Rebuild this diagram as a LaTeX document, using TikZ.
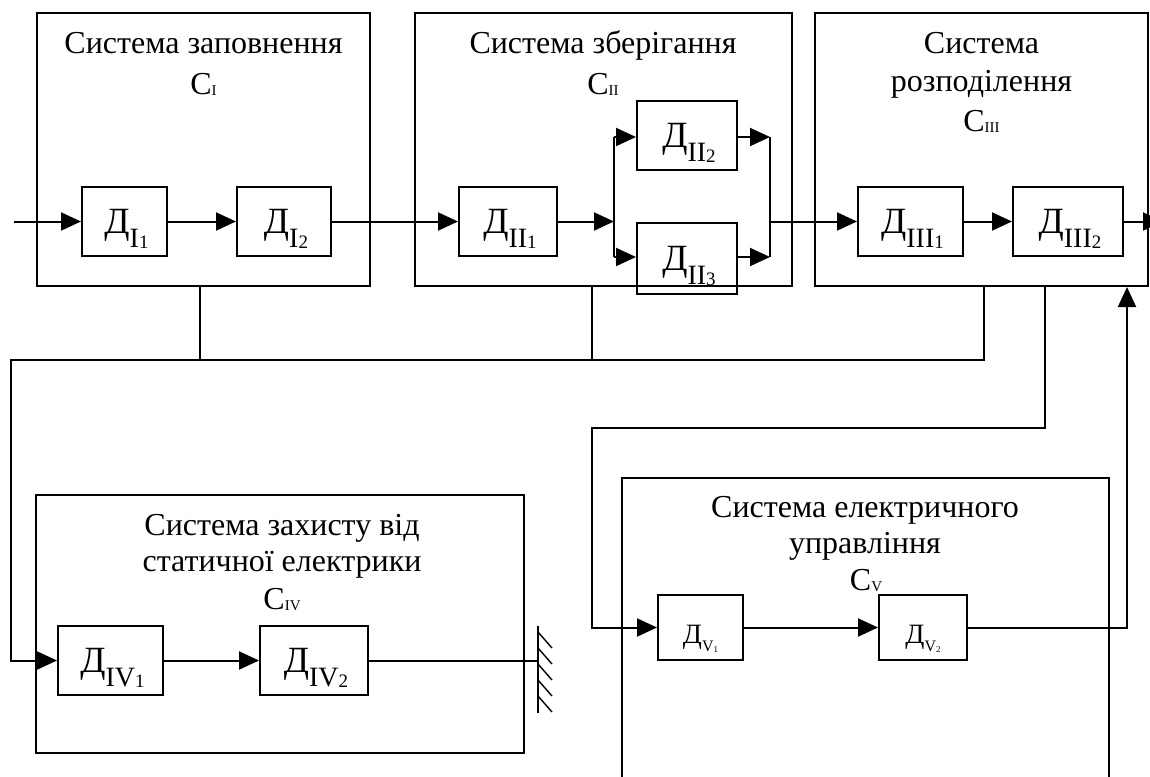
\documentclass[tikz,border=0pt]{standalone}
\usepackage{fontspec}
\setmainfont{Liberation Serif}
\usetikzlibrary{arrows.meta,calc}
\newcommand{\csub}[1]{\raisebox{-1.5pt}{\fontsize{15}{15}\selectfont #1}}
\newcommand{\dlab}[2]{\fontsize{37}{37}\selectfont Д\raisebox{-14pt}{\fontsize{28}{28}\selectfont #1\raisebox{-1pt}{\fontsize{19}{19}\selectfont #2}}}
\newcommand{\dlabs}[2]{\fontsize{28}{28}\selectfont Д\raisebox{-8pt}{\fontsize{16}{16}\selectfont #1\raisebox{-1pt}{\fontsize{9}{9}\selectfont #2}}}
\tikzset{
  ln/.style={line width=2pt},
  arr/.style={line width=2pt, -{Triangle[length=20pt,width=18pt]}},
  sysbox/.style={draw, line width=2pt, inner sep=0pt},
  dbox/.style={draw, line width=2pt, inner sep=0pt},
  ttl/.style={anchor=base, inner sep=0pt, font=\fontsize{32}{38}\selectfont},
  dl/.style={anchor=base, inner sep=0pt},
}
\begin{document}
\begin{tikzpicture}[x=1pt,y=-1pt]
\useasboundingbox (0,0) rectangle (1150,776);
% system boxes
\node[sysbox, minimum width=333, minimum height=273] (s1) at (203.5,149.5) {};
\node[sysbox, minimum width=377, minimum height=273] (s2) at (603.5,149.5) {};
\node[sysbox, minimum width=333, minimum height=273] (s3) at (981.5,149.5) {};
\node[sysbox, minimum width=488, minimum height=258] (s4) at (280,624) {};
\node[sysbox, minimum width=487, minimum height=340] (s5) at (865.5,648) {};
% titles
\node[ttl] (t1a) at (203.5,53) {Система заповнення};
\node[ttl] (t1b) at (203.5,94) {С\csub{I}};
\node[ttl] (t2a) at (603,53) {Система зберігання};
\node[ttl] (t2b) at (603,94) {С\csub{II}};
\node[ttl] (t3a) at (981.5,53) {Система};
\node[ttl] (t3b) at (981.5,91) {розподілення};
\node[ttl] (t3c) at (981.5,131) {С\csub{III}};
\node[ttl] (t4a) at (282,535) {Система захисту від};
\node[ttl] (t4b) at (282,571) {статичної електрики};
\node[ttl] (t4c) at (282,609) {С\csub{IV}};
\node[ttl] (t5a) at (865,517) {Система електричного};
\node[ttl] (t5b) at (865,553) {управління};
\node[ttl] (t5c) at (866,590) {С\csub{V}};
% element boxes
\node[dbox, minimum width=85, minimum height=69] (d11) at (124.5,221.5) {};
\node[dbox, minimum width=94, minimum height=69] (d12) at (284,221.5) {};
\node[dbox, minimum width=98, minimum height=69] (d21) at (508,221.5) {};
\node[dbox, minimum width=100, minimum height=69] (d22) at (687,135) {};
\node[dbox, minimum width=100, minimum height=71] (d23) at (687,258.5) {};
\node[dbox, minimum width=105, minimum height=69] (d31) at (910.5,221.5) {};
\node[dbox, minimum width=110, minimum height=69] (d32) at (1068,221.5) {};
\node[dbox, minimum width=105, minimum height=69] (d41) at (110.5,660.5) {};
\node[dbox, minimum width=108, minimum height=69] (d42) at (314,660.5) {};
\node[dbox, minimum width=85, minimum height=65] (d51) at (700.5,627.5) {};
\node[dbox, minimum width=88, minimum height=65] (d52) at (923,627.5) {};
% element labels
\node[dl] (l11) at ($(d11.center)+(2,12)$) {\dlab{I}{1}};
\node[dl] (l12) at ($(d12.center)+(2,12)$) {\dlab{I}{2}};
\node[dl] (l21) at ($(d21.center)+(2,12)$) {\dlab{II}{1}};
\node[dl] (l22) at ($(d22.center)+(2,12)$) {\dlab{II}{2}};
\node[dl] (l23) at ($(d23.center)+(2,12)$) {\dlab{II}{3}};
\node[dl] (l31) at ($(d31.center)+(2,12)$) {\dlab{III}{1}};
\node[dl] (l32) at ($(d32.center)+(2,12)$) {\dlab{III}{2}};
\node[dl] (l41) at ($(d41.center)+(2,12)$) {\dlab{IV}{1}};
\node[dl] (l42) at ($(d42.center)+(2,12)$) {\dlab{IV}{2}};
\node[dl] (l51) at ($(d51.center)+(0,16)$) {\dlabs{V}{1}};
\node[dl] (l52) at ($(d52.center)+(0,16)$) {\dlabs{V}{2}};
% coordinates
\coordinate (in) at (14,221.5);
\coordinate (br1) at (614,137);
\coordinate (br2) at (614,257);
\coordinate (mg1) at (770,137);
\coordinate (mg2) at (770,257);
\coordinate (mgo) at (770,221.5);
\coordinate (out) at (1163,221.5);
\coordinate (j1) at (200,360);
\coordinate (j2) at (592,360);
\coordinate (j3) at (984,360);
\coordinate (k1) at (11,360);
\coordinate (e1) at (1045,428);
\coordinate (e2) at (592,428);
\coordinate (e3) at (1127,627.5);
\coordinate (g) at (538,660.5);
% first row connectors
\draw[arr] (in) -- (d11.west);
\draw[arr] (d11) -- (d12);
\draw[arr] (d12.east) -- (d21.west);
\draw[arr] (d21.east) -- (d21.east -| br1);
\draw[ln] (br1) -- (br2);
\draw[arr] (br1) -- (br1 -| d22.west);
\draw[arr] (br2) -- (br2 -| d23.west);
\draw[arr] (d22.east |- mg1) -- (mg1);
\draw[arr] (d23.east |- mg2) -- (mg2);
\draw[ln] (mg1) -- (mg2);
\draw[arr] (mgo) -- (d31.west);
\draw[arr] (d31) -- (d32);
\draw[arr] (d32.east) -- (out);
% bus to protection system
\draw[ln] (s1.south -| j1) -- (j1);
\draw[ln] (s2.south -| j2) -- (j2);
\draw[arr] (s3.south -| j3) -- (j3) -- (k1) -- (k1 |- d41.west) -- (d41.west);
\draw[arr] (d41) -- (d42);
\draw[ln] (d42.east) -- (g);
% ground
\draw[ln] (538,626) -- (538,713);
\foreach \yy in {632,648,664,680,696}
  \draw[line width=1.4pt] (538,\yy) -- (552,\yy+16);
% electric control loop
\draw[arr] (s3.south -| e1) -- (e1) -- (e2) -- (e2 |- d51.west) -- (d51.west);
\draw[arr] (d51) -- (d52);
\draw[arr] (d52.east) -- (e3) -- (e3 |- s3.south);
\end{tikzpicture}
\end{document}
